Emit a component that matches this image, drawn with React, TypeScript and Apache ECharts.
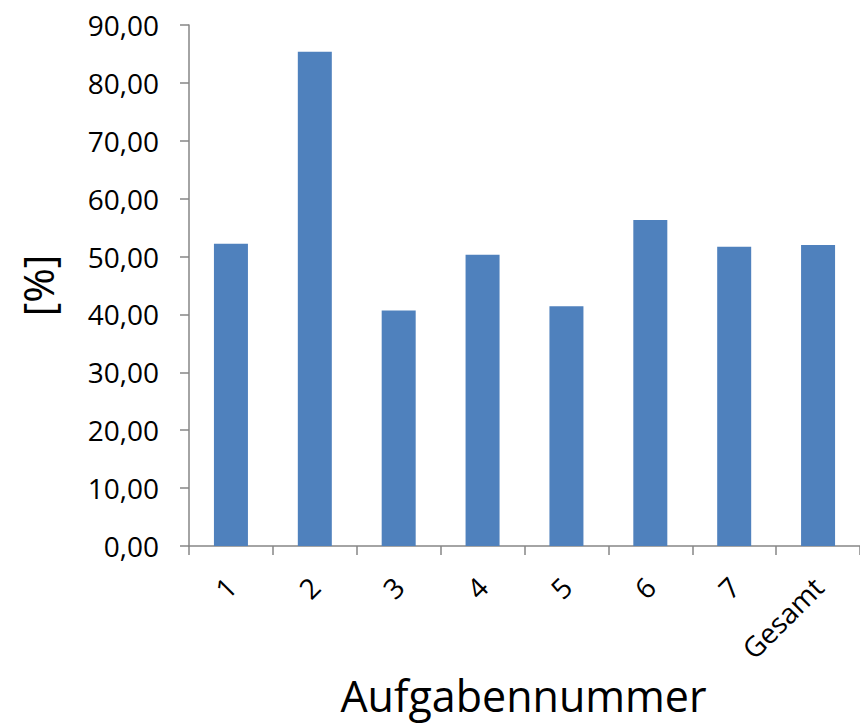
import React, { useEffect, useRef } from "react";
import * as echarts from "echarts";

const categories = ["1", "2", "3", "4", "5", "6", "7", "Gesamt"];
const values = [52.2, 85.4, 40.7, 50.3, 41.4, 56.3, 51.7, 52.0];
const yTicks = { min: 0, max: 90, interval: 10 };
const xAxisTitle = "Aufgabennummer";
const yAxisTitle = "[%]";

export default function App() {
  const ref = useRef<HTMLDivElement>(null);
  useEffect(() => {
    if (!ref.current) return;
    const chart = echarts.init(ref.current, null, { renderer: "svg" });
    const font = "'Open Sans', 'Noto Sans', sans-serif";
    chart.setOption({
      animation: false,
      backgroundColor: "#ffffff",
      textStyle: { fontFamily: font },
      grid: { left: 189, right: -9, top: 25, bottom: 176, containLabel: false },
      xAxis: {
        type: "category",
        data: categories,
        name: xAxisTitle,
        nameLocation: "middle",
        nameGap: 126,
        nameTextStyle: { fontSize: 43, lineHeight: 46, color: "#000", fontFamily: font, padding: [0, 2, 0, 0] },
        axisLine: { lineStyle: { color: "#868686", width: 1.5 } },
        axisTick: { show: true, length: 9, lineStyle: { color: "#868686", width: 1.5 } },
        axisLabel: { rotate: 45, margin: 36, fontSize: 28, color: "#000", fontFamily: font, interval: 0 },
      },
      yAxis: {
        type: "value",
        min: yTicks.min,
        max: yTicks.max,
        interval: yTicks.interval,
        name: yAxisTitle,
        nameLocation: "middle",
        nameRotate: 90,
        nameGap: 131,
        nameTextStyle: { fontSize: 42, color: "#000", fontFamily: font },
        splitLine: { show: false },
        axisLine: { show: true, lineStyle: { color: "#868686", width: 1.5 } },
        axisTick: { show: true, length: 9, lineStyle: { color: "#868686", width: 1.5 } },
        axisLabel: {
          margin: 30,
          fontSize: 28,
          color: "#000",
          fontFamily: font,
          formatter: (v: number) => v.toFixed(2).replace(".", ","),
        },
      },
      series: [
        {
          type: "bar",
          data: values,
          barWidth: 34,
          itemStyle: { color: "#4F81BD" },
        },
      ],
    });
    return () => chart.dispose();
  }, []);
  return (
    <div
      ref={ref}
      style={{ position: "absolute", left: 0, top: 0, width: 860, height: 723 }}
    />
  );
}
